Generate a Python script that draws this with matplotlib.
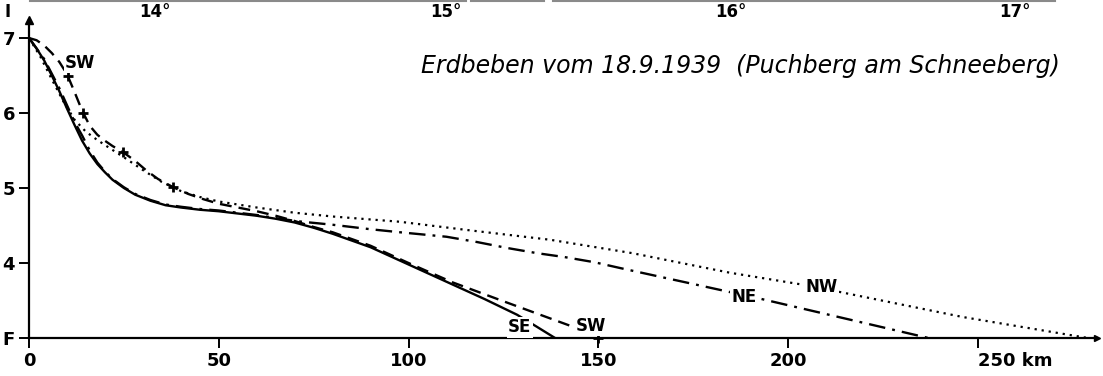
import matplotlib
matplotlib.use("Agg")
import matplotlib.pyplot as plt
from matplotlib.lines import Line2D

# distance (km) vs intensity (F = 3)
se_km = [0, 2, 4, 6, 8, 10, 12, 14, 16, 18, 20, 22, 25, 28, 32, 36, 40, 45, 50, 55, 60, 65, 70, 75, 80,
         85, 90, 100, 110, 120, 128.6, 133.8, 138.6]
se_i = [7.0, 6.86, 6.70, 6.50, 6.29, 6.06, 5.84, 5.63, 5.46, 5.32, 5.21, 5.11, 5.00, 4.91, 4.83, 4.77, 4.74,
        4.71, 4.69, 4.66, 4.63, 4.59, 4.54, 4.47, 4.39, 4.30, 4.21, 3.98, 3.75, 3.52, 3.31, 3.15, 3.0]

sw_km = [0, 2, 4, 6, 8, 10, 12, 14, 16, 18, 20, 22, 25, 28, 31, 34, 38, 42, 46, 50, 55, 60, 65, 70, 75, 80,
         85, 90, 100, 111.7, 125, 143.3]
sw_i = [7.0, 6.97, 6.90, 6.80, 6.68, 6.52, 6.28, 6.03, 5.83, 5.71, 5.63, 5.56, 5.47, 5.36, 5.23, 5.12, 5.01,
        4.92, 4.85, 4.79, 4.74, 4.69, 4.63, 4.56, 4.48, 4.41, 4.32, 4.23, 4.00, 3.74, 3.49, 3.15]
sw_mark_km = [10.3, 14.2, 24.8, 38.0, 150]
sw_mark_i = [6.49, 6.0, 5.48, 5.01, 3.0]

ne_km = [0, 4, 8, 12, 14, 16, 18, 20, 22, 25, 28, 32, 36, 40, 45, 50, 55, 60, 66, 72, 80, 90, 97.7, 110,
         118, 126, 134, 141, 149, 156, 175, 193, 215, 237]
ne_i = [7.0, 6.72, 6.33, 5.88, 5.70, 5.50, 5.34, 5.22, 5.12, 5.01, 4.92, 4.84, 4.78, 4.75, 4.72, 4.70, 4.67,
        4.64, 4.59, 4.55, 4.51, 4.45, 4.41, 4.35, 4.28, 4.20, 4.13, 4.08, 4.01, 3.93, 3.72, 3.52, 3.26, 3.0]

nw_km = [0, 3, 6, 9, 12, 15, 18, 21, 25, 30, 35, 40, 45, 50, 55, 60, 70, 80, 97.7, 115.4, 137.3, 159.1,
         176.8, 184.7, 204, 214, 246, 279]
nw_i = [7.0, 6.75, 6.45, 6.16, 5.91, 5.75, 5.64, 5.54, 5.41, 5.24, 5.08, 4.96, 4.88, 4.82, 4.78, 4.74, 4.67,
        4.62, 4.55, 4.44, 4.31, 4.13, 3.95, 3.87, 3.71, 3.61, 3.28, 3.0]

y_ticks = [7, 6, 5, 4, 3]
y_labels = ["7", "6", "5", "4", "F"]
x_ticks = [0, 50, 100, 150, 200, 250]
x_labels = ["0", "50", "100", "150", "200", "250 km"]
deg_km = [33.2, 109.9, 184.9, 259.7]
deg_labels = ["14°", "15°", "16°", "17°"]

W, H = 1103, 376
fig = plt.figure(figsize=(W / 100, H / 100), dpi=100)
ax = fig.add_axes([29 / W, (H - 338) / H, (1097 - 29) / W, (338 - 20) / H])
ax.set_xlim(0, 281.4)
ax.set_ylim(3, 7.24)

lw = 1.7
ax.plot(se_km, se_i, color="black", lw=lw, solid_joinstyle="round")
ax.plot(sw_km, sw_i, color="black", lw=lw, dashes=(5, 3))
ax.plot(sw_mark_km, sw_mark_i, ls="none", marker="+", ms=7, mew=2, color="black", clip_on=False)
ax.plot(ne_km, ne_i, color="black", lw=lw, dashes=(7, 3, 1.2, 3))
ax.plot(nw_km, nw_i, color="black", lw=1.6, dashes=(1, 2.2))

lab = dict(fontsize=12, fontweight="bold", ha="center", va="center",
           bbox=dict(facecolor="white", edgecolor="none", pad=1))
ax.text(13.5, 6.67, "SW", **lab)
ax.text(129.3, 3.14, "SE", **lab)
ax.text(148, 3.16, "SW", **lab)
ax.text(188.4, 3.55, "NE", **lab)
ax.text(208.9, 3.68, "NW", **lab)

for s in ["top", "right"]:
    ax.spines[s].set_visible(False)
for s in ["left", "bottom"]:
    ax.spines[s].set_linewidth(1.6)
ax.plot(0, 1, transform=ax.transAxes, marker="^", ms=6, color="black", clip_on=False)
ax.plot(1, 0, transform=ax.transAxes, marker=">", ms=5, color="black", clip_on=False)

ax.set_yticks(y_ticks)
ax.set_yticklabels(y_labels, fontweight="bold")
ax.set_xticks(x_ticks)
ax.set_xticklabels(x_labels, fontweight="bold")
ax.tick_params(axis="both", direction="out", length=7, width=1.4, labelsize=13, pad=3)
for t in ax.get_xticklabels()[:-1]:
    t.set_horizontalalignment("center")
ax.get_xticklabels()[-1].set_horizontalalignment("left")

sec = ax.secondary_xaxis("top")
sec.set_xticks(deg_km)
sec.set_xticklabels(deg_labels, fontweight="bold")
sec.tick_params(length=0, labelsize=12, pad=-1)
sec.spines["top"].set_visible(False)

fig.text(5 / W, 1 - 12 / H, "I", fontsize=12, fontweight="bold", ha="left", va="center")
fig.text(1060 / W, 1 - 66 / H, "Erdbeben vom 18.9.1939  (Puchberg am Schneeberg)",
         fontsize=17, style="italic", ha="right", va="center")

# faint frame line at the top edge of the scan
for x0, x1 in [(30, 466), (471, 544), (553, 1055)]:
    fig.add_artist(Line2D([x0 / W, x1 / W], [1 - 1 / H, 1 - 1 / H], color="#8a8a8a", lw=1.5))

fig.savefig("out.png", dpi=100)
